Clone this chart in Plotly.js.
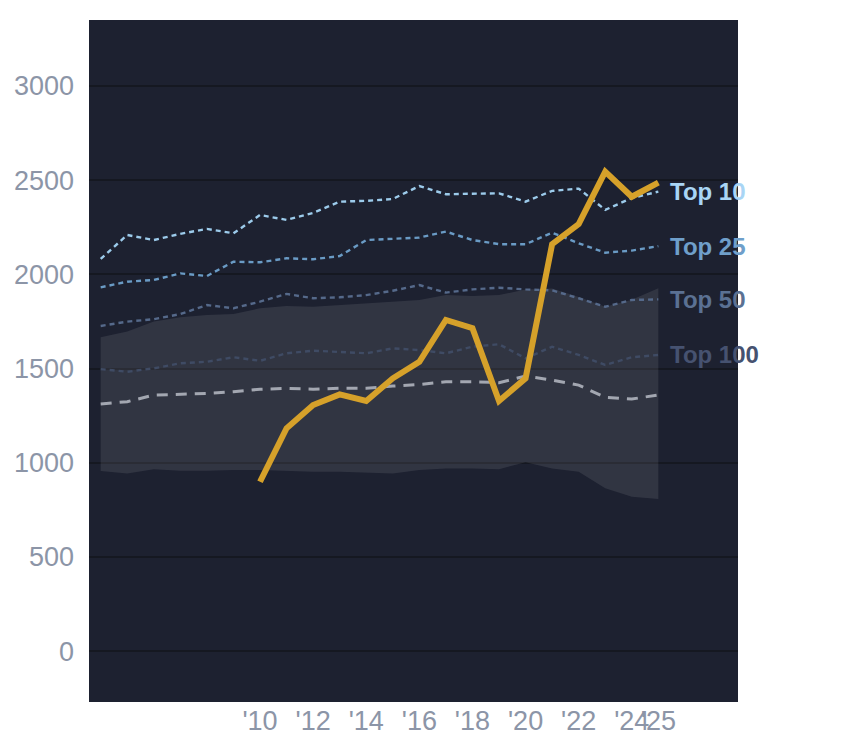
<!DOCTYPE html>
<html>
<head>
<meta charset="utf-8">
<script src="https://cdn.plot.ly/plotly-3.0.1.min.js"></script>
<style>html,body{margin:0;padding:0;background:#fff;}#chart{width:844px;height:748px;}</style>
</head>
<body>
<div id="chart"></div>
<script>
const years = [2004,2005,2006,2007,2008,2009,2010,2011,2012,2013,2014,2015,2016,2017,2018,2019,2020,2021,2022,2023,2024,2025];
const top10 = [2082,2209,2182,2215,2241,2218,2315,2289,2326,2386,2390,2400,2469,2425,2428,2430,2386,2443,2455,2342,2405,2439];
const top25 = [1931,1961,1970,2005,1991,2067,2064,2085,2080,2097,2182,2189,2195,2227,2182,2160,2160,2221,2165,2115,2126,2150];
const top50 = [1726,1749,1762,1789,1837,1820,1855,1896,1873,1878,1890,1913,1943,1903,1920,1929,1920,1915,1873,1828,1864,1867];
const top100 = [1497,1483,1501,1528,1536,1560,1541,1581,1595,1589,1581,1607,1598,1581,1616,1629,1554,1616,1572,1519,1560,1572];
const median = [1312,1324,1359,1363,1368,1377,1390,1395,1390,1395,1395,1407,1415,1430,1430,1425,1460,1439,1412,1347,1338,1360];
const bandHigh = [1666,1696,1749,1772,1784,1789,1820,1832,1828,1837,1843,1855,1864,1890,1885,1890,1920,1925,1880,1828,1865,1926];
const bandLow = [956,943,966,957,957,961,961,956,952,952,947,943,961,970,970,966,1002,970,952,864,820,807];
const highlightYears = [2010,2011,2012,2013,2014,2015,2016,2017,2018,2019,2020,2021,2022,2023,2024,2025];
const highlight = [899,1183,1306,1363,1328,1448,1536,1758,1714,1328,1448,2160,2267,2545,2412,2487];
const tickYears = [2010,2012,2014,2016,2018,2020,2022,2024,2025];
const tickLabels = ["'10","'12","'14","'16","'18","'20","'22","'24","'25"];
const tierNames = ["Top 10","Top 25","Top 50","Top 100"];
const tierColors = ["#9ccbeb","#6a9bc5","#55698a","#3f4b64"];
const labelColors = ["#a9d5f5","#6f9fca","#5b7193","#465270"];

const tiers = [top10, top25, top50, top100];

const traces = [];
traces.push({x: years, y: bandLow, mode: 'lines', line: {width: 0, color: 'rgba(0,0,0,0)'}, hoverinfo: 'skip', showlegend: false});
traces.push({x: years, y: bandHigh, mode: 'lines', fill: 'tonexty', fillcolor: 'rgba(255,255,255,0.09)', line: {width: 0, color: 'rgba(0,0,0,0)'}, hoverinfo: 'skip', showlegend: false});
tiers.forEach((vals, i) => {
  traces.push({x: years, y: vals, mode: 'lines', line: {color: tierColors[i], width: 2.4, dash: '5px,4px'}, showlegend: false, name: tierNames[i]});
});
traces.push({x: years, y: median, mode: 'lines', line: {color: '#a3a7b1', width: 3, dash: '11px,8px'}, showlegend: false, name: 'Median'});
traces.push({x: highlightYears, y: highlight, mode: 'lines', line: {color: '#d6a12a', width: 6}, showlegend: false, name: 'Highlight'});

const annotations = tiers.map((vals, i) => ({
  x: years[years.length - 1], y: vals[vals.length - 1], xref: 'x', yref: 'y',
  text: '<b>' + tierNames[i] + '</b>', showarrow: false, xanchor: 'left', yanchor: 'middle',
  xshift: 10, font: {family: 'Liberation Sans, Arial, sans-serif', size: 24, color: labelColors[i]}
}));

const layout = {
  width: 844, height: 748,
  margin: {l: 89, r: 106, t: 20, b: 46, pad: 0},
  paper_bgcolor: '#ffffff',
  plot_bgcolor: '#1d2130',
  showlegend: false,
  font: {family: 'Liberation Sans, Arial, sans-serif', color: '#8c95a7'},
  xaxis: {
    range: [2003.56, 2028], tickmode: 'array', tickvals: tickYears, ticktext: tickLabels,
    tickangle: 0, showgrid: false, zeroline: false, showline: false, ticks: '',
    tickfont: {size: 27, color: '#8c95a7'}
  },
  yaxis: {
    range: [-270, 3350], tickvals: [0,500,1000,1500,2000,2500,3000],
    showgrid: true, gridcolor: '#151821', gridwidth: 2, zeroline: false, showline: false, ticks: '',
    ticklabelstandoff: 14,
    tickfont: {size: 27, color: '#8c95a7'}
  },
  annotations: annotations
};

Plotly.newPlot('chart', traces, layout, {staticPlot: true, displayModeBar: false});
</script>
</body>
</html>
